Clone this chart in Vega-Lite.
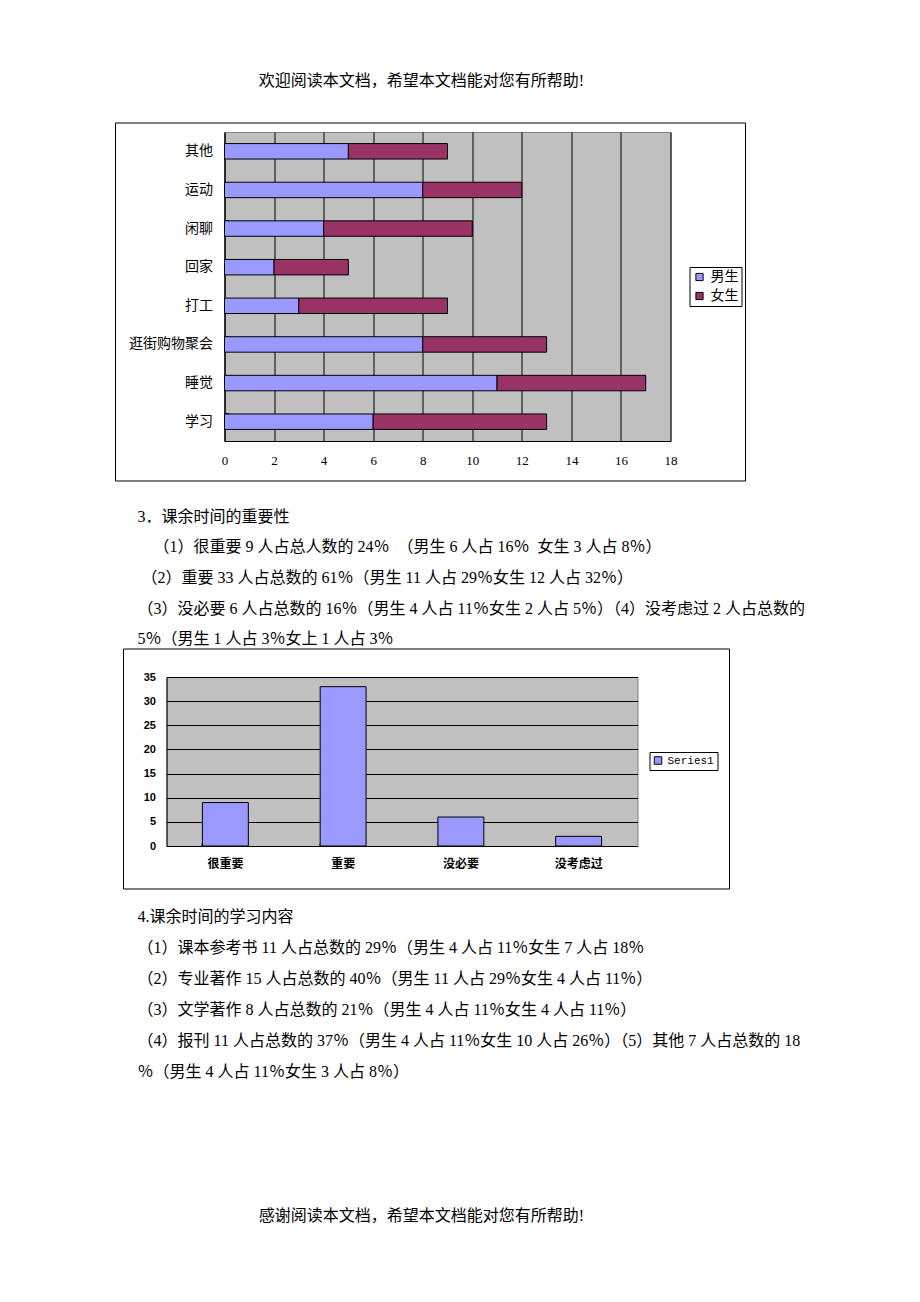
{
  "$schema": "https://vega.github.io/schema/vega-lite/v6.json",
  "autosize": {"type": "pad"},
  "padding": {"left": 114.5, "top": 40, "right": 0, "bottom": 0},
  "background": "#ffffff",
  "config": {
    "view": {"stroke": null},
    "axis": {"labelColor": "#000000", "domainColor": "#000000", "titleColor": "#000000", "tickColor": "#000000"},
    "legend": {"labelColor": "#000000"}
  },
  "spacing": 0,
  "bounds": "full",
  "resolve": {"scale": {"color": "independent"}, "legend": {"color": "independent"}},
  "vconcat": [
    {
      "width": 568,
      "height": 81,
      "data": {"values": [{"t": "欢迎阅读本文档，希望本文档能对您有所帮助!"}]},
      "mark": {"type": "text", "font": "'Liberation Serif', 'Noto Sans CJK SC'", "fontSize": 16, "color": "#000000", "align": "center", "baseline": "middle"},
      "encoding": {"text": {"field": "t"}}
    },
    {
      "spacing": 0,
      "bounds": "flush",
      "resolve": {"scale": {"color": "independent"}, "legend": {"color": "independent"}},
      "hconcat": [
        {"width": 87, "height": 309, "data": {"values": []}, "mark": "text", "encoding": {}},
        {
          "width": 446,
          "height": 309,
          "view": {"fill": "#C0C0C0", "stroke": "#808080"},
          "resolve": {"scale": {"x": "independent", "y": "independent"}},
          "layer": [
            {
              "data": {"values": [
                {"cat": "其他", "sex": "男生", "n": 5}, {"cat": "其他", "sex": "女生", "n": 4},
                {"cat": "运动", "sex": "男生", "n": 8}, {"cat": "运动", "sex": "女生", "n": 4},
                {"cat": "闲聊", "sex": "男生", "n": 4}, {"cat": "闲聊", "sex": "女生", "n": 6},
                {"cat": "回家", "sex": "男生", "n": 2}, {"cat": "回家", "sex": "女生", "n": 3},
                {"cat": "打工", "sex": "男生", "n": 3}, {"cat": "打工", "sex": "女生", "n": 6},
                {"cat": "逛街购物聚会", "sex": "男生", "n": 8}, {"cat": "逛街购物聚会", "sex": "女生", "n": 5},
                {"cat": "睡觉", "sex": "男生", "n": 11}, {"cat": "睡觉", "sex": "女生", "n": 6},
                {"cat": "学习", "sex": "男生", "n": 6}, {"cat": "学习", "sex": "女生", "n": 7}
              ]},
              "mark": {"type": "bar", "stroke": "#000000", "strokeWidth": 1},
              "encoding": {
                "y": {"field": "cat", "type": "nominal", "sort": null,
                  "scale": {"paddingInner": 0.6, "paddingOuter": 0.3},
                  "axis": {"title": null, "orient": "left", "ticks": true, "tickSize": -4, "bandPosition": 0, "labelPadding": 16, "labelFont": "'Liberation Serif', 'Noto Sans CJK SC'", "labelFontSize": 14, "domainColor": "#000000", "grid": false}},
                "x": {"field": "n", "type": "quantitative", "stack": "zero",
                  "scale": {"domain": [0, 18], "nice": false},
                  "axis": {"title": null, "orient": "bottom", "values": [0, 2, 4, 6, 8, 10, 12, 14, 16, 18], "grid": true, "gridColor": "#000000", "gridOpacity": 1, "ticks": false, "labelPadding": 13, "labelFlush": false, "labelFont": "'Liberation Serif'", "labelFontSize": 13, "domainColor": "#000000"}},
                "color": {"field": "sex", "type": "nominal",
                  "scale": {"domain": ["男生", "女生"], "range": ["#9999FF", "#993366"]},
                  "legend": {"title": null, "orient": "none", "legendX": 465, "legendY": 135, "strokeColor": "#000000", "fillColor": "#ffffff", "padding": 3, "rowPadding": 5, "symbolType": "square", "symbolSize": 52, "symbolStrokeColor": "#000000", "symbolStrokeWidth": 1, "symbolOpacity": 1, "labelFont": "'Noto Sans CJK SC'", "labelFontSize": 14, "labelOffset": 4}},
                "order": {"field": "sex", "sort": "descending"}
              }
            },
            {
              "data": {"values": [{}]},
              "mark": {"type": "rect", "fill": "transparent", "stroke": "#000000", "strokeWidth": 1, "clip": false},
              "encoding": {
                "x": {"datum": -0.24439, "type": "quantitative", "scale": {"domain": [0, 1], "nice": false, "zero": false}, "axis": null},
                "x2": {"datum": 1.16816},
                "y": {"datum": 1.02913, "type": "quantitative", "scale": {"domain": [0, 1], "nice": false, "zero": false}, "axis": null},
                "y2": {"datum": -0.12945}
              }
            }
          ]
        }
      ]
    },
    {
      "width": 680,
      "height": 165,
      "data": {"values": [
        {"t": "3．课余时间的重要性"},
        {"t": "\u200b\u00a0\u00a0\u00a0\u00a0（1）很重要 9 人占总人数的 24％\u3000（男生 6 人占 16％\u2002女生 3 人占 8％）"},
        {"t": "\u200b\u00a0（2）重要 33 人占总数的 61％（男生 11 人占 29％女生 12 人占 32％）"},
        {"t": "（3）没必要 6 人占总数的 16％（男生 4 人占 11％女生 2 人占 5％）（4）没考虑过 2 人占总数的"},
        {"t": "5％（男生 1 人占 3％女上 1 人占 3％"}
      ]},
      "mark": {"type": "text", "font": "'Liberation Serif', 'Noto Sans CJK SC'", "fontSize": 16, "color": "#000000", "align": "left", "baseline": "middle"},
      "encoding": {
        "x": {"datum": 0, "type": "quantitative", "scale": {"domain": [0, 1]}, "axis": null},
        "y": {"field": "t", "type": "nominal", "sort": null, "axis": null, "scale": {"type": "point", "padding": 0.7049, "align": 0.7907}},
        "text": {"field": "t"}
      }
    },
    {
      "spacing": 0,
      "bounds": "flush",
      "resolve": {"scale": {"color": "independent"}, "legend": {"color": "independent"}},
      "hconcat": [
        {"width": 29, "height": 169, "data": {"values": []}, "mark": "text", "encoding": {}},
        {
          "width": 471,
          "height": 169,
          "view": {"fill": "#C0C0C0", "stroke": "#808080"},
          "resolve": {"scale": {"x": "independent", "y": "independent"}},
          "layer": [
            {
              "data": {"values": [
                {"cat": "很重要", "n": 9, "series": "Series1"},
                {"cat": "重要", "n": 33, "series": "Series1"},
                {"cat": "没必要", "n": 6, "series": "Series1"},
                {"cat": "没考虑过", "n": 2, "series": "Series1"}
              ]},
              "mark": {"type": "bar", "stroke": "#000000", "strokeWidth": 1},
              "encoding": {
                "x": {"field": "cat", "type": "nominal", "sort": null,
                  "scale": {"paddingInner": 0.61, "paddingOuter": 0.305},
                  "axis": {"title": null, "orient": "bottom", "labelAngle": 0, "ticks": true, "tickSize": -3, "bandPosition": 0, "labelPadding": 15, "labelFont": "'Noto Sans CJK SC'", "labelFontSize": 12, "labelFontWeight": "bold", "domainColor": "#000000", "grid": false}},
                "y": {"field": "n", "type": "quantitative",
                  "scale": {"domain": [0, 35], "nice": false},
                  "axis": {"title": null, "orient": "left", "values": [0, 5, 10, 15, 20, 25, 30, 35], "grid": true, "gridColor": "#000000", "gridOpacity": 1, "ticks": false, "labelPadding": 11, "labelFont": "'Liberation Sans'", "labelFontSize": 11, "labelFontWeight": "bold", "domainColor": "#000000"}},
                "color": {"field": "series", "type": "nominal",
                  "scale": {"domain": ["Series1"], "range": ["#9999FF"]},
                  "legend": {"title": null, "orient": "none", "legendX": 483, "legendY": 75, "strokeColor": "#000000", "fillColor": "#ffffff", "padding": 3, "symbolType": "square", "symbolSize": 56, "symbolStrokeColor": "#000000", "symbolStrokeWidth": 1, "symbolOpacity": 1, "labelFont": "'Liberation Mono'", "labelFontSize": 11, "labelOffset": 4}}
              }
            },
            {
              "data": {"values": [{}]},
              "mark": {"type": "rect", "fill": "transparent", "stroke": "#000000", "strokeWidth": 1, "clip": false},
              "encoding": {
                "x": {"datum": -0.0913, "type": "quantitative", "scale": {"domain": [0, 1], "nice": false, "zero": false}, "axis": null},
                "x2": {"datum": 1.19533},
                "y": {"datum": 1.16568, "type": "quantitative", "scale": {"domain": [0, 1], "nice": false, "zero": false}, "axis": null},
                "y2": {"datum": -0.25444}
              }
            }
          ]
        }
      ]
    },
    {
      "width": 680,
      "height": 217,
      "data": {"values": [
        {"t": "4.课余时间的学习内容"},
        {"t": "（1）课本参考书 11 人占总数的 29％（男生 4 人占 11％女生 7 人占 18％"},
        {"t": "（2）专业著作 15 人占总数的 40％（男生 11 人占 29％女生 4 人占 11％）"},
        {"t": "（3）文学著作 8 人占总数的 21％（男生 4 人占 11％女生 4 人占 11％）"},
        {"t": "（4）报刊 11 人占总数的 37％（男生 4 人占 11％女生 10 人占 26％）（5）其他 7 人占总数的 18"},
        {"t": "％（男生 4 人占 11％女生 3 人占 8％）"}
      ]},
      "mark": {"type": "text", "font": "'Liberation Serif', 'Noto Sans CJK SC'", "fontSize": 16, "color": "#000000", "align": "left", "baseline": "middle"},
      "encoding": {
        "x": {"datum": 0, "type": "quantitative", "scale": {"domain": [0, 1]}, "axis": null},
        "y": {"field": "t", "type": "nominal", "sort": null, "axis": null, "scale": {"type": "point", "padding": 1, "align": 0.4194}},
        "text": {"field": "t"}
      }
    },
    {
      "width": 568,
      "height": 108,
      "data": {"values": [{"t": "感谢阅读本文档，希望本文档能对您有所帮助!"}]},
      "mark": {"type": "text", "font": "'Liberation Serif', 'Noto Sans CJK SC'", "fontSize": 16, "color": "#000000", "align": "center", "baseline": "middle"},
      "encoding": {
        "y": {"datum": 0, "type": "quantitative", "scale": {"domain": [0, 1]}, "axis": null},
        "text": {"field": "t"}
      }
    }
  ]
}
